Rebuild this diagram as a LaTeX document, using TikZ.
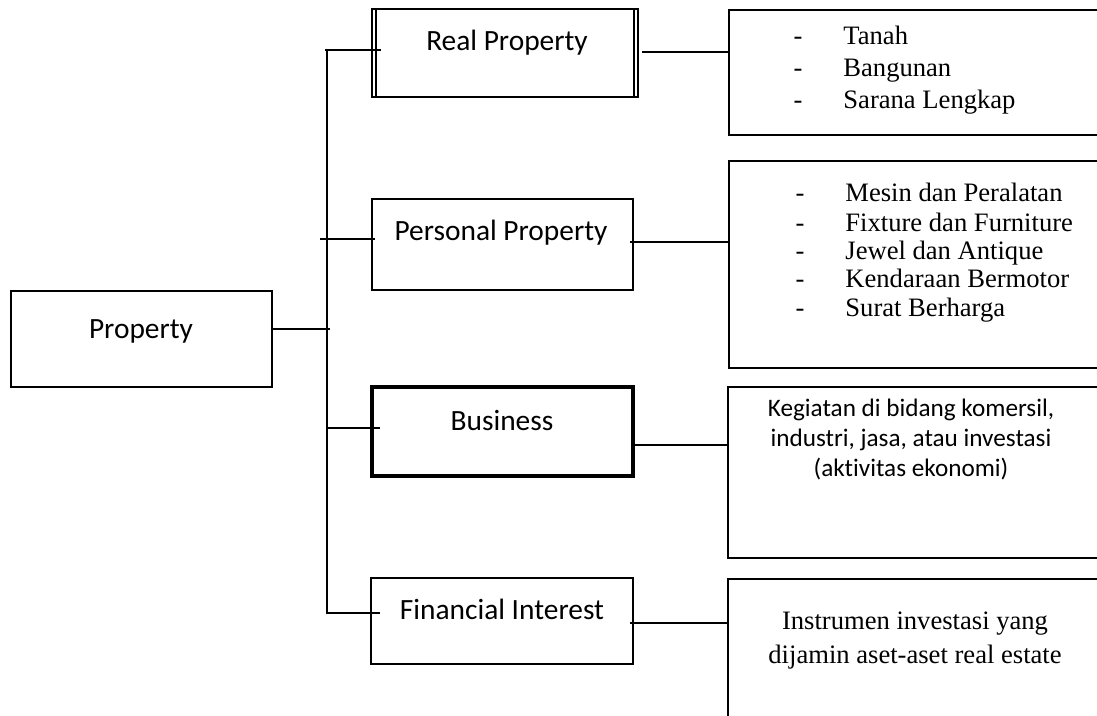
\documentclass[tikz,border=0pt]{standalone}
\usepackage{fontspec}
\setmainfont{Liberation Serif}
\setsansfont{Carlito}[RawFeature=-liga]
\begin{document}
\begin{tikzpicture}[x=0.5pt,y=-0.5pt,
  box/.style={draw,line width=1pt,rectangle,inner sep=0pt},
  thickbox/.style={box,line width=1.6pt},
  wire/.style={line width=1pt},
  head/.style={font=\sffamily\fontsize{14.7}{17}\selectfont,anchor=base,inner sep=0pt},
  sanstext/.style={font=\sffamily\fontsize{12.6}{15}\selectfont,anchor=base,inner sep=0pt},
  sertext/.style={font=\rmfamily\fontsize{13.3}{15}\selectfont,anchor=base,inner sep=0pt},
  dashmark/.style={font=\rmfamily\fontsize{13.3}{15}\selectfont,anchor=base,inner sep=0pt}]
\useasboundingbox (0,0) rectangle (1097,716);
\clip (0,0) rectangle (1097,716);

% left column of category boxes
\node[box,minimum width=130.5pt,minimum height=48pt] (prop) at (141.5,339) {};
\node[box,minimum width=133pt,minimum height=44pt] (realp) at (505,53) {};
\draw[line width=0.7pt] ([xshift=2.5pt]realp.north west) -- ([xshift=2.5pt]realp.south west);
\draw[line width=0.7pt] ([xshift=-2.5pt]realp.north east) -- ([xshift=-2.5pt]realp.south east);
\node[box,minimum width=130.5pt,minimum height=45.5pt] (persp) at (502.5,244.5) {};
\node[thickbox,minimum width=130.5pt,minimum height=44.5pt] (bus) at (502.5,431.5) {};
\node[box,minimum width=131pt,minimum height=43pt] (fin) at (502,621) {};

% right column of description boxes
\node[box,minimum width=190pt,minimum height=62.5pt] (d1) at (919,72.5) {};
\node[box,minimum width=190pt,minimum height=103.5pt] (d2) at (919,264.5) {};
\node[box,minimum width=190.5pt,minimum height=85.5pt] (d3) at (918.5,472.5) {};
\node[box,minimum width=190.5pt,minimum height=75.5pt] (d4) at (918.5,654.5) {};

% labels of the category boxes
\node[head] (tprop) at (141,339) {Property};
\node[head] (trealp) at (507,51) {Real Property};
\node[head] (tpersp) at (501,241) {Personal Property};
\node[head] (tbus) at (502,430) {Business};
\node[head] (tfin) at (502,619) {Financial Interest};

% list entries
\foreach \y/\t [count=\i] in {45/Tanah,77/Bangunan,109/Sarana Lengkap}{
  \node[dashmark] (da\i) at (798,\y) {-};
  \node[sertext,anchor=base west] (la\i) at (843,\y) {\t};
}
\foreach \y/\t [count=\i] in {202/Mesin dan Peralatan,232/Fixture dan Furniture,260/Jewel dan Antique,288/Kendaraan Bermotor,317/Surat Berharga}{
  \node[dashmark] (db\i) at (800,\y) {-};
  \node[sertext,anchor=base west] (lb\i) at (845,\y) {\t};
}
\node[sanstext] (lc1) at (911,416) {Kegiatan di bidang komersil,};
\node[sanstext] (lc2) at (911,446) {industri, jasa, atau investasi};
\node[sanstext] (lc3) at (911,476) {(aktivitas ekonomi)};
\node[sertext] (ld1) at (915,629) {Instrumen investasi yang};
\node[sertext] (ld2) at (915,663) {dijamin aset-aset real estate};

% trunk and branches
\coordinate (ttop) at (327,50);
\coordinate (tp) at (327,239);
\coordinate (tm) at (330,329);
\coordinate (tb) at (327,428);
\coordinate (tbot) at (327,613);
\draw[wire] (ttop) -- (tbot);
\draw[wire] (prop.east |- tm) -- (tm);
\draw[wire] ([xshift=-1pt]ttop) -- ([xshift=5pt]realp.west |- ttop);
\draw[wire] ([xshift=-3.5pt]tp) -- ([xshift=2pt]persp.west |- tp);
\draw[wire] ([xshift=-0.5pt]tb) -- ([xshift=5pt]bus.west |- tb);
\draw[wire] ([xshift=-0.5pt]tbot) -- ([xshift=5pt]fin.west |- tbot);

% links to the descriptions
\coordinate (r1) at (642,52);
\coordinate (r2) at (630,242);
\coordinate (r3) at (633,445);
\coordinate (r4) at (630,623);
\draw[wire] (r1) -- (d1.west |- r1);
\draw[wire] (r2) -- (d2.west |- r2);
\draw[wire] (r3) -- (d3.west |- r3);
\draw[wire] (r4) -- (d4.west |- r4);
\end{tikzpicture}
\end{document}
